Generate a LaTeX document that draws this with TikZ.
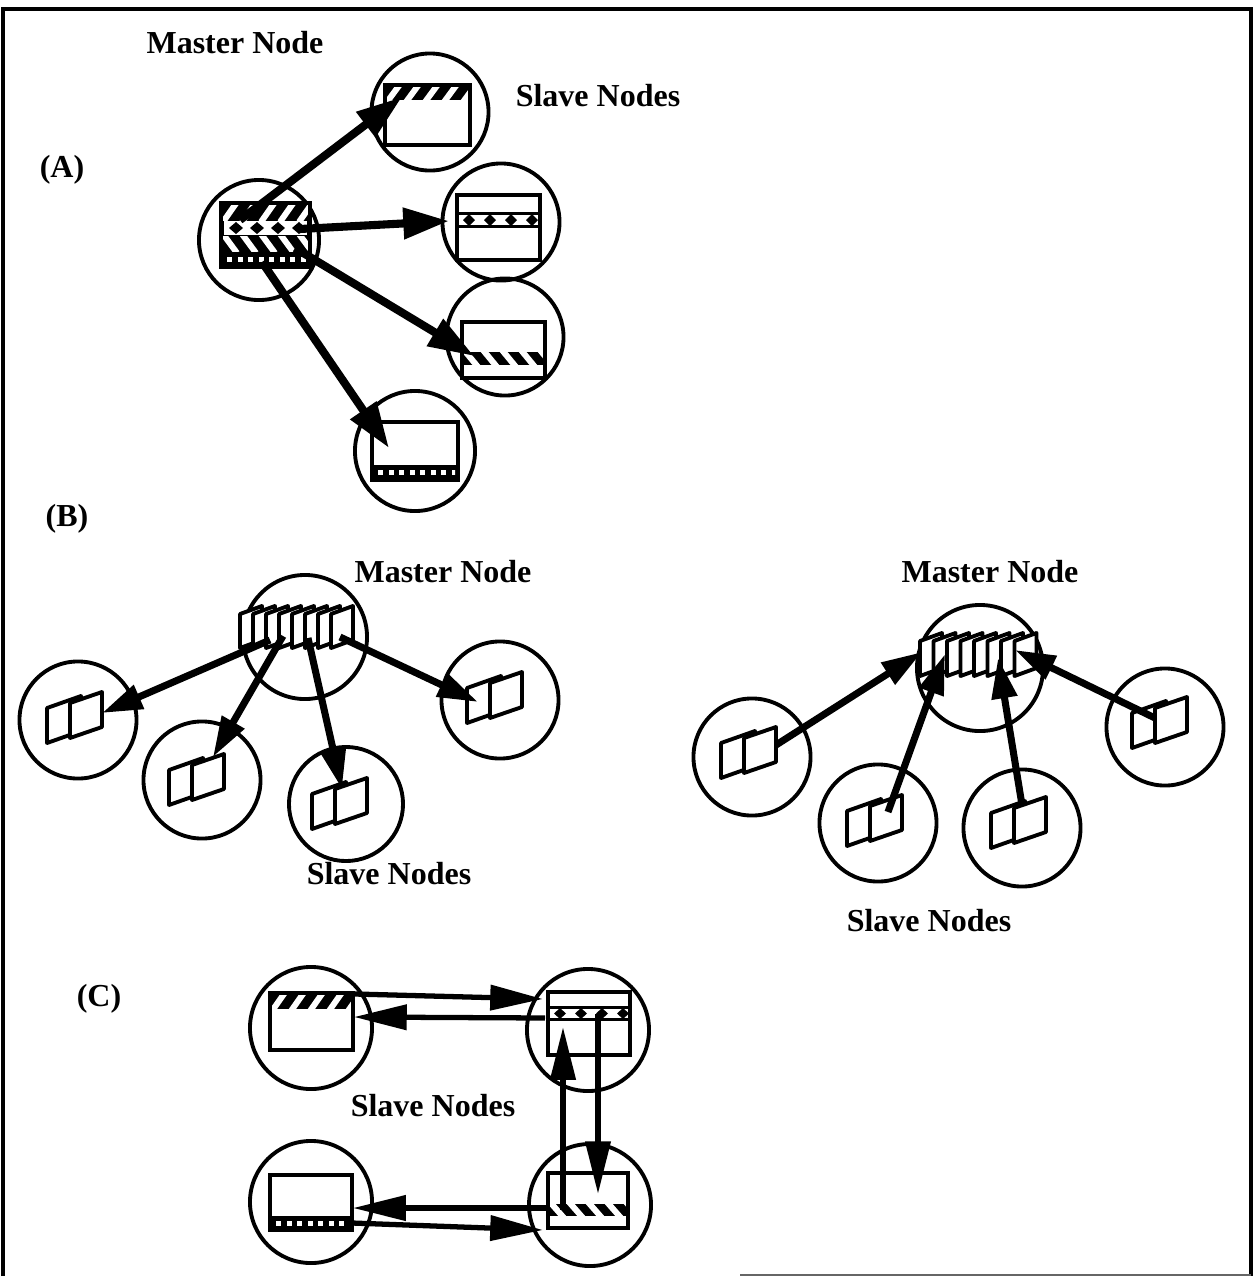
\documentclass[tikz,border=0pt]{standalone}
\usepackage{fontspec}
\setmainfont{Liberation Serif}
\usetikzlibrary{arrows.meta}

% white "/" stripes on a black band: x1 y1(top) x2 y2(bottom)
\newcommand\hatchR[4]{%
  \fill ({#1},{#2}) rectangle ({#3},{#4});
  \begin{scope}
    \clip ({#1},{#2}) rectangle ({#3},{#4});
    \foreach \k in {0,...,6}
      \draw[white,line width=1.7pt] ({#1+2+\k*19},{#4+2}) -- ({#1+16+\k*19},{#2-2});
  \end{scope}}
% white "\" stripes on a black band
\newcommand\hatchL[4]{%
  \fill ({#1},{#2}) rectangle ({#3},{#4});
  \begin{scope}
    \clip ({#1},{#2}) rectangle ({#3},{#4});
    \foreach \k in {0,...,6}
      \draw[white,line width=1.7pt] ({#1+2+\k*19},{#2-2}) -- ({#1+16+\k*19},{#4+2});
  \end{scope}}
% black band with a row of white dots
\newcommand\dotband[4]{%
  \fill ({#1},{#2}) rectangle ({#3},{#4});
  \begin{scope}
    \clip ({#1+3},{#2}) rectangle ({#3-3},{#4});
    \foreach \k in {0,...,9}
      \fill[white] ({#1+6+\k*10.5},{(#2+#4)/2-2.5}) rectangle ++(5,5);
  \end{scope}}
% band bounded by black rules with a row of black diamonds
\newcommand\diaband[4]{%
  \fill ({#1},{#2}) rectangle ({#3},{#2+3});
  \fill ({#1},{#4-3}) rectangle ({#3},{#4});
  \begin{scope}
    \clip ({#1},{#2}) rectangle ({#3},{#4});
    \foreach \k in {0,...,4}
      \fill ({#1+12+\k*21},{#2+2}) -- ({#1+18+\k*21},{(#2+#4)/2}) --
            ({#1+12+\k*21},{#4-2}) -- ({#1+6+\k*21},{(#2+#4)/2}) -- cycle;
  \end{scope}}
% a slanted sheet: x y (lower left) width height rise
\newcommand\sheet[5]{%
  \filldraw[fill=white,draw=black,line width=1.1pt,line join=round]
    ({#1},{#2}) -- ({#1},{#2-#4}) -- ({#1+#3},{#2-#4-#5}) -- ({#1+#3},{#2-#5}) -- cycle;}
% two overlapping sheets about a centre
\newcommand\sheetpair[2]{%
  \sheet{#1-31}{#2+23}{34}{35}{12}%
  \sheet{#1-8}{#2+18}{32}{35}{11}}

\begin{document}
\begin{tikzpicture}[x=0.01cm,y=-0.01cm,
  ring/.style={circle,draw,line width=1.1pt,inner sep=0pt,minimum size=1.17cm},
  boxline/.style={draw,line width=1.4pt},
  lbl/.style={font=\fontsize{9.1}{11}\selectfont\bfseries,inner sep=0pt},
  arrA/.style={line width=2.3pt,-{Triangle[length=13pt,width=8.5pt]}},
  arrB/.style={line width=2pt,-{Triangle[length=11.5pt,width=7pt]}},
  arrC/.style={line width=1.5pt,-{Triangle[length=15pt,width=7pt]}}]
\useasboundingbox (0,0) rectangle (1255,1278);

% frame
\draw[line width=1.2pt] (3,1276) -- (3,9) -- (1251,9) -- (1251,1276);
\draw[line width=0.8pt,black!60] (740,1275) -- (1251,1275);

% ---------- (A) ----------
\node[lbl] (tA) at (62,170) {(A)};
\node[lbl] (mnA) at (235,43) {Master Node};
\node[lbl] (snA) at (598,96) {Slave Nodes};

\node[ring,minimum size=1.2cm] (MA) at (259,240) {};
\node[ring] (SA1) at (430,112) {};
\node[ring] (SA2) at (501,222) {};
\node[ring] (SA3) at (505,337) {};
\node[ring,minimum size=1.2cm] (SA4) at (415,451) {};

% master store: all four parts
\fill (221,203) rectangle (310,267);
\hatchR{221}{204}{310}{220}
\fill[white] (224,221) rectangle (307,235);
\foreach \k in {0,...,3}
  \fill ({236+\k*21},222) -- ({243+\k*21},228) -- ({236+\k*21},234) -- ({229+\k*21},228) -- cycle;
\hatchL{221}{236}{310}{251}
\dotband{221}{252}{310}{267}
\draw[boxline] (221,203) rectangle (310,267);

% slave 1: first part
\hatchR{385}{85}{470}{100}
\draw[boxline] (385,85) rectangle (470,145);
% slave 2: second part
\diaband{457}{212}{540}{228}
\draw[boxline] (457,195) rectangle (540,260);
% slave 3: third part
\hatchL{462}{352}{545}{365}
\draw[boxline] (462,322) rectangle (545,378);
% slave 4: fourth part
\dotband{372}{465}{458}{480}
\draw[boxline] (372,422) rectangle (458,480);

\coordinate (a1s) at (240,220); \coordinate (a1e) at (402,97);
\coordinate (a2s) at (300,229); \coordinate (a2e) at (449,221);
\coordinate (a3s) at (295,248); \coordinate (a3e) at (474,356);
\coordinate (a4s) at (262,262); \coordinate (a4e) at (389,448);
\draw[arrA] (a1s) -- (a1e);
\draw[arrA] (a2s) -- (a2e);
\draw[arrA] (a3s) -- (a3e);
\draw[arrA] (a4s) -- (a4e);

% ---------- (B) scatter ----------
\node[lbl] (tB) at (67,519) {(B)};
\node[lbl] (mnB1) at (443,572) {Master Node};
\node[lbl] (snB1) at (389,874) {Slave Nodes};

\node[ring,minimum size=1.24cm] (MB) at (305,637) {};
\node[ring] (SB1) at (78,720) {};
\node[ring] (SB2) at (202,780) {};
\node[ring,minimum size=1.14cm] (SB3) at (346,804) {};
\node[ring] (SB4) at (500,700) {};

\foreach \k in {0,...,7} {\sheet{240+13*\k}{648}{22}{34}{8}}
\sheetpair{78}{720}
\sheetpair{200}{782}
\sheetpair{343}{806}
\sheetpair{498}{700}

\coordinate (b1s) at (270,640); \coordinate (b1e) at (102,713);
\coordinate (b2s) at (283,636); \coordinate (b2e) at (213,757);
\coordinate (b3s) at (308,638); \coordinate (b3e) at (342,789);
\coordinate (b4s) at (340,637); \coordinate (b4e) at (478,702);
\draw[arrB] (b1s) -- (b1e);
\draw[arrB] (b2s) -- (b2e);
\draw[arrB] (b3s) -- (b3e);
\draw[arrB] (b4s) -- (b4e);

% ---------- (B) gather ----------
\node[lbl] (mnB2) at (990,572) {Master Node};
\node[lbl] (snB2) at (929,921) {Slave Nodes};

\node[ring,minimum size=1.26cm] (MC) at (980,668) {};
\node[ring] (SC1) at (752,757) {};
\node[ring] (SC2) at (878,823) {};
\node[ring] (SC3) at (1022,828) {};
\node[ring] (SC4) at (1165,727) {};

\foreach \k in {0,...,7} {\sheet{920+13.5*\k}{676}{22}{35}{8}}
\sheetpair{752}{755}
\sheetpair{878}{823}
\sheetpair{1022}{825}
\sheetpair{1163}{725}

\coordinate (c1s) at (776,745);  \coordinate (c1e) at (922,652);
\coordinate (c2s) at (888,812);  \coordinate (c2e) at (945,654);
\coordinate (c3s) at (1022,805); \coordinate (c3e) at (998,658);
\coordinate (c4s) at (1155,718); \coordinate (c4e) at (1015,650);
\draw[arrB] (c1s) -- (c1e);
\draw[arrB] (c2s) -- (c2e);
\draw[arrB] (c3s) -- (c3e);
\draw[arrB] (c4s) -- (c4e);

% ---------- (C) ring ----------
\node[lbl] (tC) at (99,999) {(C)};
\node[lbl] (snC) at (433,1106) {Slave Nodes};

\node[ring,minimum size=1.22cm] (R1) at (311,1028) {};
\node[ring,minimum size=1.22cm] (R2) at (588,1030) {};
\node[ring,minimum size=1.22cm] (R3) at (311,1202) {};
\node[ring,minimum size=1.22cm] (R4) at (590,1205) {};

\hatchR{270}{993}{353}{1009}
\draw[boxline] (270,993) rectangle (353,1050);
\diaband{548}{1006}{630}{1021}
\draw[boxline] (548,992) rectangle (630,1055);
\dotband{270}{1216}{352}{1230}
\draw[boxline] (270,1175) rectangle (352,1230);
\hatchL{548}{1204}{628}{1216}
\draw[boxline] (548,1173) rectangle (628,1228);

\coordinate (r1s) at (355,994);  \coordinate (r1e) at (543,999);
\coordinate (r2s) at (545,1018); \coordinate (r2e) at (354,1017);
\coordinate (r3s) at (563,1210); \coordinate (r3e) at (563,1027);
\coordinate (r4s) at (598,1014); \coordinate (r4e) at (598,1194);
\coordinate (r5s) at (548,1208); \coordinate (r5e) at (353,1208);
\coordinate (r6s) at (352,1223); \coordinate (r6e) at (543,1230);
\draw[arrC] (r1s) -- (r1e);
\draw[arrC] (r2s) -- (r2e);
\draw[arrC] (r3s) -- (r3e);
\draw[arrC] (r4s) -- (r4e);
\draw[arrC] (r5s) -- (r5e);
\draw[arrC] (r6s) -- (r6e);
\end{tikzpicture}
\end{document}
